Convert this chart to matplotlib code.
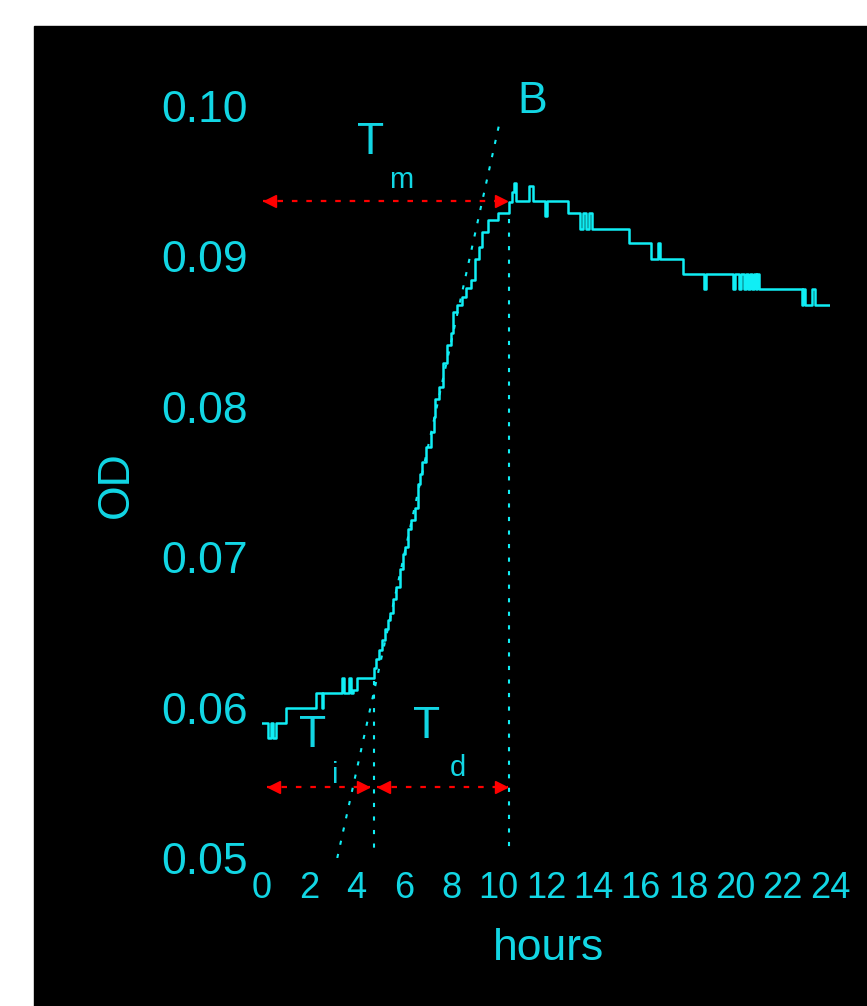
import matplotlib
matplotlib.use('Agg')
import matplotlib.pyplot as plt
from matplotlib.patches import Rectangle

# growth curve (hours, OD)
hours = [0.00, 0.25, 0.38, 0.47, 0.59, 1.02, 2.30, 2.52, 2.58,
         3.40, 3.47, 3.68, 3.76, 3.85, 4.03,
         4.66, 4.75, 4.83, 4.96, 5.08, 5.21, 5.34, 5.42, 5.55, 5.68,
         5.85, 5.97, 6.06, 6.19, 6.31, 6.48, 6.61, 6.69, 6.78, 6.91,
         7.12, 7.25, 7.29, 7.46, 7.63, 7.80, 7.97, 8.09, 8.26, 8.47,
         8.64, 8.81, 8.98, 9.15, 9.28, 9.53, 9.96, 10.42, 10.55, 10.64,
         10.72, 11.30, 11.45, 11.95, 12.05, 12.92, 13.45, 13.55, 13.70,
         13.80, 13.95, 15.51, 16.44, 16.72, 16.82, 17.80, 18.68, 18.78,
         19.90, 20.00, 20.15, 20.25, 20.35, 20.45, 20.55, 20.62, 20.70,
         20.78, 20.86, 20.93, 21.02, 22.80, 22.88, 22.95, 23.25, 23.38,
         23.94]
od = [0.0590, 0.0580, 0.0590, 0.0580, 0.0590, 0.0600, 0.0610, 0.0600, 0.0610,
      0.0620, 0.0610, 0.0620, 0.0610, 0.0612, 0.0620,
      0.0620, 0.0626, 0.0632, 0.0638, 0.0645, 0.0652, 0.0658, 0.0663, 0.0672, 0.0680,
      0.0692, 0.0702, 0.0707, 0.0719, 0.0725, 0.0733, 0.0749, 0.0755, 0.0763, 0.0773,
      0.0783, 0.0793, 0.0805, 0.0813, 0.0829, 0.0841, 0.0849, 0.0863, 0.0868, 0.0873,
      0.0879, 0.0884, 0.0898, 0.0906, 0.0916, 0.0924, 0.0929, 0.0936, 0.0943, 0.0949,
      0.0937, 0.0947, 0.0937, 0.0927, 0.0937, 0.0929, 0.0918, 0.0929, 0.0918,
      0.0929, 0.0918, 0.0909, 0.0898, 0.0909, 0.0898, 0.0888, 0.0878, 0.0888,
      0.0878, 0.0888, 0.0878, 0.0888, 0.0878, 0.0888, 0.0878, 0.0888, 0.0878,
      0.0888, 0.0878, 0.0888, 0.0878, 0.0868, 0.0878, 0.0868, 0.0878, 0.0868,
      0.0868]

# annotation values
t_lag = 4.75          # end of lag phase
t_max = 10.42         # time of max OD
od_peak = 0.0937
od_arrow = 0.0547
od_floor = 0.0502
tangent_t = [3.18, 10.08]
tangent_od = [0.0500, 0.0992]
ti_arrow = [0.20, 4.58]
td_arrow = [4.87, 10.38]
tm_arrow = [0.04, 10.38]

xticks = list(range(0, 25, 2))
yticks = [0.05, 0.06, 0.07, 0.08, 0.09, 0.10]

cyan = '#10eef5'
tcol = '#12d6e4'
red = '#ff0000'
plt.rcParams['font.family'] = ['Liberation Sans', 'DejaVu Sans']

fig = plt.figure(figsize=(8.67, 10.06), dpi=100, facecolor='white')
bg = Rectangle((34 / 867, 0), 1 - 34 / 867, 1 - 26 / 1006,
               transform=fig.transFigure, color='black', zorder=-10)
fig.patches.append(bg)
ax = fig.add_axes([262 / 867, 1 - 858 / 1006, 568 / 867, 752 / 1006])
ax.set_facecolor('none')
for s in ax.spines.values():
    s.set_visible(False)

ax.plot(hours, od, drawstyle='steps-post', color=cyan, lw=1.8)

dot = (0, (2, 4.5))
ax.plot(tangent_t, tangent_od, color=cyan, lw=1.5, linestyle=dot)
ax.plot([t_lag, t_lag], [0.0618, od_floor], color=cyan, lw=1.5, linestyle=dot)
ax.plot([t_max, t_max], [0.0925, od_floor], color=cyan, lw=1.5, linestyle=dot)

for seg, yy in [(ti_arrow, od_arrow), (td_arrow, od_arrow), (tm_arrow, od_peak)]:
    ax.plot(seg, [yy, yy], color=red, lw=1.6, linestyle=(0, (2.5, 4)))
    ax.plot(seg[0] + 0.3, yy, marker='<', color=red, markersize=8, clip_on=False)
    ax.plot(seg[1] - 0.3, yy, marker='>', color=red, markersize=8, clip_on=False)

big = 32
small = 21
ax.text(4.58, 0.0968, 'T', color=tcol, fontsize=big, ha='center', va='baseline')
ax.text(5.89, 0.09455, 'm', color=tcol, fontsize=small, ha='center', va='baseline')
ax.text(2.12, 0.05738, 'T', color=tcol, fontsize=big, ha='center', va='baseline')
ax.text(3.09, 0.05499, 'i', color=tcol, fontsize=small, ha='center', va='baseline')
ax.text(6.95, 0.05798, 'T', color=tcol, fontsize=big, ha='center', va='baseline')
ax.text(8.26, 0.05545, 'd', color=tcol, fontsize=small, ha='center', va='baseline')
ax.text(11.44, 0.09953, 'B', color=tcol, fontsize=big, ha='center', va='baseline')

ax.set_xlim(0, 24)
ax.set_ylim(0.05, 0.10)
ax.set_xticks(xticks)
ax.set_xticklabels([str(t) for t in xticks])
ax.set_yticks(yticks)
ax.set_yticklabels(['%.2f' % v for v in yticks])
ax.tick_params(axis='y', length=0, pad=10, labelsize=big, labelcolor=tcol)
ax.tick_params(axis='x', length=0, pad=9, labelsize=26, labelcolor=tcol)

ax.set_xlabel('hours', color=tcol, fontsize=big, va='baseline')
ax.xaxis.set_label_coords(0.505, -0.1356)
ax.set_ylabel('OD', color=tcol, fontsize=big, va='baseline')
ax.yaxis.set_label_coords(-0.236, 0.496)

fig.savefig('out.png', dpi=100, facecolor='white')
